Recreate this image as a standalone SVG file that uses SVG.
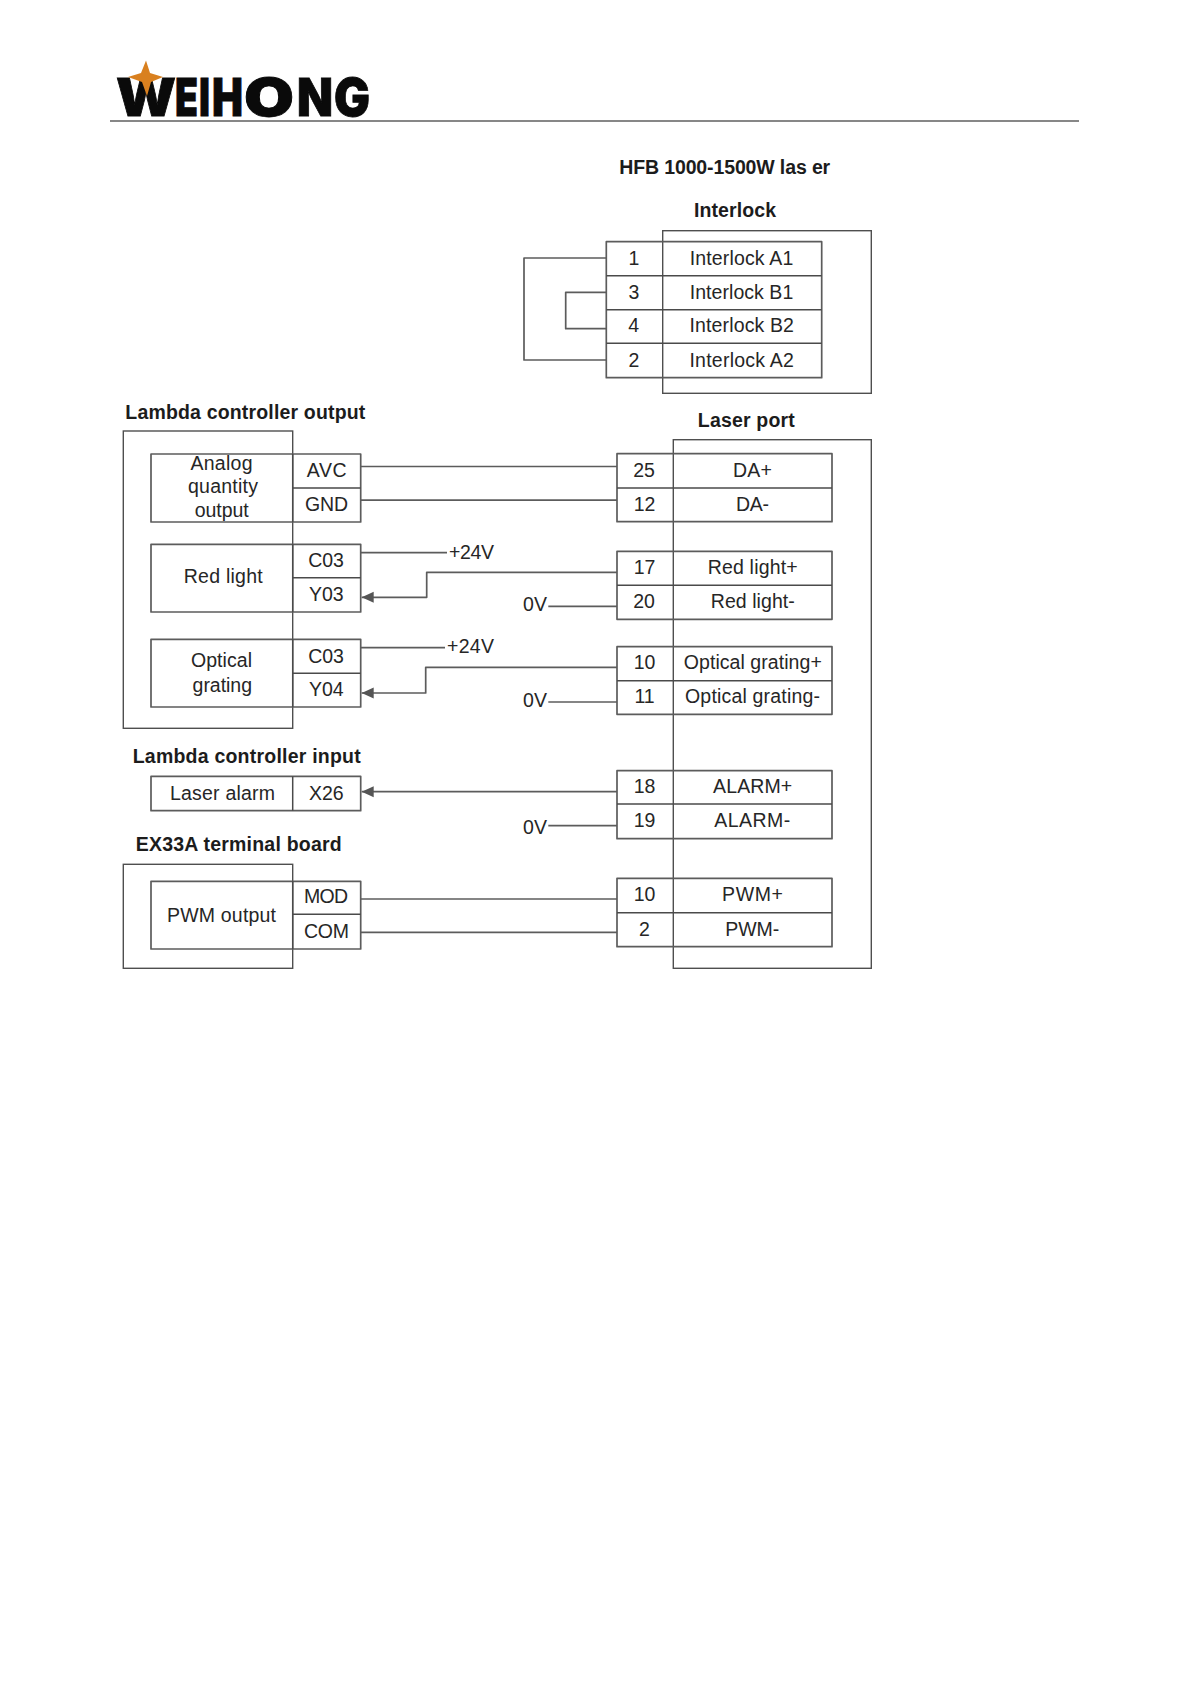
<svg xmlns="http://www.w3.org/2000/svg" width="1190" height="1684" viewBox="0 0 1190 1684">
<defs>
<marker id="arrow" markerUnits="userSpaceOnUse" markerWidth="13" markerHeight="12" refX="12" refY="6" orient="auto"><path d="M0,0.5 L12,6 L0,11.5 Z" fill="#555"/></marker>
</defs>
<style>
text{font-family:"Liberation Sans",Arial,sans-serif;font-size:19.5px;fill:#262626;text-anchor:middle}
.t{font-weight:bold;fill:#1c1c1c}
.box,.ln{fill:none;stroke:#5c5c5c;stroke-width:1.7;stroke-linejoin:round}
.row{fill:none;stroke:#4a4a4a;stroke-width:1.5}
.outer{fill:none;stroke:#4f4f4f;stroke-width:1.4}
.logo{font-family:Inter,"Liberation Sans",sans-serif;font-weight:900;font-size:52px;fill:#0a0a0a;text-anchor:start;stroke:#0a0a0a;stroke-width:.8}
</style>
<rect width="1190" height="1684" fill="#fff"/>
<g id="header">
<text class="logo" y="116"><tspan x="116" textLength="60" lengthAdjust="spacingAndGlyphs">W</tspan><tspan x="175" textLength="23" lengthAdjust="spacingAndGlyphs">E</tspan><tspan x="199" textLength="11" lengthAdjust="spacingAndGlyphs">I</tspan><tspan x="212" textLength="31" lengthAdjust="spacingAndGlyphs">H</tspan><tspan x="244" textLength="50" lengthAdjust="spacingAndGlyphs">O</tspan><tspan x="297" textLength="36" lengthAdjust="spacingAndGlyphs">N</tspan><tspan x="334" textLength="36" lengthAdjust="spacingAndGlyphs">G</tspan></text>
<path d="M146,60.5 L150,73 L163,77 L151,82 L147,96 L142,82 L128,77 L141,73 Z" fill="#d9801f"/>
<line x1="110" y1="121" x2="1079" y2="121" stroke="#111" stroke-width="1.2"/>
</g>
<g id="titles">
<text class="t" x="724.7" y="174" textLength="211">HFB 1000-1500W las er</text>
<text class="t" x="735" y="217" textLength="82">Interlock</text>
<text class="t" x="245.3" y="419.3" textLength="240">Lambda controller output</text>
<text class="t" x="746.3" y="426.7" textLength="97">Laser port</text>
<text class="t" x="246.7" y="763.3" textLength="228">Lambda controller input</text>
<text class="t" x="238.7" y="850.7" textLength="206">EX33A terminal board</text>
</g>
<g id="connectors">
<path class="ln" d="M606.3,258 H524 V360 H606.3"/>
<path class="ln" d="M606.3,292.3 H565.7 V328.7 H606.3"/>
<path class="ln" d="M360.7,466.5 H617"/>
<path class="ln" d="M360.7,500.2 H617"/>
<path class="ln" d="M360.7,552.7 H447"/>
<path class="ln" d="M617,572.3 H426.7 V597.3 H361.7" marker-end="url(#arrow)"/>
<path class="ln" d="M548.3,606.3 H617"/>
<path class="ln" d="M360.7,647.7 H445"/>
<path class="ln" d="M617,667.3 H425.7 V693 H361.7" marker-end="url(#arrow)"/>
<path class="ln" d="M548.3,702 H617"/>
<path class="ln" d="M617,791.7 H361.7" marker-end="url(#arrow)"/>
<path class="ln" d="M548.3,825.7 H617"/>
<path class="ln" d="M360.7,899 H617"/>
<path class="ln" d="M360.7,932.3 H617"/>
</g>
<g id="interlock">
<rect class="outer" x="662.7" y="230.7" width="208.6" height="162.6"/>
<rect class="box" x="606.3" y="241.7" width="215.4" height="136"/>
<path class="row" d="M606.3,275.7 H821.7 M606.3,309.7 H821.7 M606.3,343.3 H821.7"/>
<text x="634" y="265">1</text><text x="741.5" y="265" textLength="103.5">Interlock A1</text>
<text x="634" y="299">3</text><text x="741.5" y="299" textLength="103.5">Interlock B1</text>
<text x="633.7" y="332.3">4</text><text x="741.7" y="332.3" textLength="104.5">Interlock B2</text>
<text x="634" y="366.7">2</text><text x="741.7" y="366.7" textLength="104.5">Interlock A2</text>
</g>
<g id="lambda-output">
<rect class="outer" x="123.3" y="431" width="169.4" height="297.3"/>
</g>
<g id="analog-output">
<rect class="box" x="151" y="454" width="209.7" height="68"/>
<path class="row" d="M292.7,454 V522 M292.7,488 H360.7"/>
<text x="221.5" y="470" textLength="62">Analog</text>
<text x="223" y="493.3" textLength="70">quantity</text>
<text x="221.7" y="517.3" textLength="54">output</text>
<text x="326.7" y="476.7" textLength="40">AVC</text>
<text x="326.5" y="510.7" textLength="43">GND</text>
</g>
<g id="red-light">
<rect class="box" x="151" y="544.3" width="209.7" height="67.7"/>
<path class="row" d="M292.7,544.3 V612 M292.7,577.7 H360.7"/>
<text x="223.2" y="583.3" textLength="79">Red light</text>
<text x="326" y="566.7" textLength="35.7">C03</text>
<text x="326.3" y="601" textLength="34.7">Y03</text>
<text x="471.5" y="559" textLength="45">+24V</text>
</g>
<g id="optical-grating">
<rect class="box" x="151" y="639.3" width="209.7" height="67.7"/>
<path class="row" d="M292.7,639.3 V707 M292.7,673.3 H360.7"/>
<text x="221.5" y="667.3" textLength="61">Optical</text>
<text x="222.3" y="691.7" textLength="59.5">grating</text>
<text x="326" y="663.3" textLength="35.7">C03</text>
<text x="326.3" y="696" textLength="34.7">Y04</text>
<text x="470.5" y="653.3" textLength="47">+24V</text>
</g>
<g id="laser-alarm">
<rect class="box" x="151" y="776.3" width="209.7" height="34.4"/>
<path class="row" d="M292.7,776.3 V810.7"/>
<text x="222.5" y="800" textLength="105">Laser alarm</text>
<text x="326.3" y="800" textLength="34.7">X26</text>
</g>
<g id="ex33a-board">
<rect class="outer" x="123.3" y="864.3" width="169.4" height="104"/>
<rect class="box" x="151" y="881.3" width="209.7" height="67.7"/>
<path class="row" d="M292.7,881.3 V949 M292.7,914.3 H360.7"/>
<text x="221.5" y="921.7" textLength="109">PWM output</text>
<text x="326" y="903.3" textLength="44">MOD</text>
<text x="326.5" y="937.7" textLength="45">COM</text>
</g>
<g id="laser-port">
<rect class="outer" x="673.3" y="439.7" width="198" height="528.6"/>
<text x="535" y="611" textLength="24">0V</text>
<text x="535" y="706.7" textLength="24">0V</text>
<text x="535" y="834" textLength="24">0V</text>
</g>
<g id="da-pins">
<rect class="box" x="617" y="453.7" width="215" height="68"/>
<path class="row" d="M617,488 H832"/>
<text x="644" y="476.7">25</text><text x="752.5" y="476.7" textLength="39">DA+</text>
<text x="644.5" y="511">12</text><text x="752.5" y="511" textLength="33">DA-</text>
</g>
<g id="red-light-pins">
<rect class="box" x="617" y="551.3" width="215" height="68"/>
<path class="row" d="M617,585.3 H832"/>
<text x="644.5" y="574">17</text><text x="752.7" y="574" textLength="90">Red light+</text>
<text x="644" y="608.3">20</text><text x="752.8" y="608.3" textLength="84">Red light-</text>
</g>
<g id="optical-grating-pins">
<rect class="box" x="617" y="646.7" width="215" height="67.6"/>
<path class="row" d="M617,680.7 H832"/>
<text x="644.5" y="668.7">10</text><text x="752.8" y="668.7" textLength="138">Optical grating+</text>
<text x="644.5" y="703.3">11</text><text x="752.5" y="703.3" textLength="135">Optical grating-</text>
</g>
<g id="alarm-pins">
<rect class="box" x="617" y="770.7" width="215" height="68"/>
<path class="row" d="M617,804 H832"/>
<text x="644.5" y="793.3">18</text><text x="752.6" y="793.3" textLength="79">ALARM+</text>
<text x="644.5" y="826.7">19</text><text x="752.3" y="826.7" textLength="76">ALARM-</text>
</g>
<g id="pwm-pins">
<rect class="box" x="617" y="878.3" width="215" height="68.4"/>
<path class="row" d="M617,912.7 H832"/>
<text x="644.5" y="901.3">10</text><text x="752.5" y="901.3" textLength="61">PWM+</text>
<text x="644.5" y="936">2</text><text x="752.3" y="936" textLength="54">PWM-</text>
</g>
</svg>
